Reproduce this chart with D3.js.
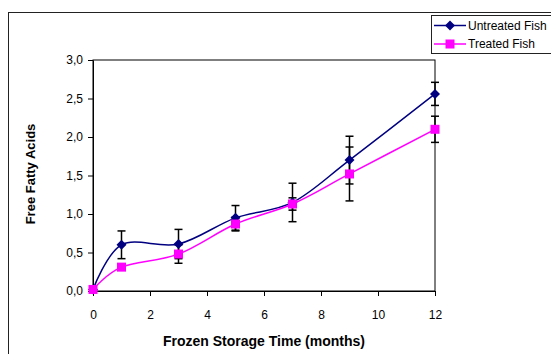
<!DOCTYPE html>
<html>
<head>
<meta charset="utf-8">
<script src="https://cdn.jsdelivr.net/npm/d3@7"></script>
<style>
  body { margin: 0; background: #fff; }
  svg { display: block; font-family: Arial, "Liberation Sans", sans-serif; }
</style>
</head>
<body>
<div id="chart"></div>
<script>
// storage time in months
const months = [0, 1, 3, 5, 7, 9, 12];
const untreated = [0.02, 0.60, 0.61, 0.95, 1.15, 1.70, 2.56];
const untreatedErr = [0, 0.18, 0.19, 0.16, 0.25, 0.31, 0.15];
const treated = [0.02, 0.31, 0.48, 0.87, 1.13, 1.52, 2.10];
const treatedErr = [0, 0.03, 0.12, 0.09, 0.08, 0.35, 0.17];
const xTicks = [0, 2, 4, 6, 8, 10, 12];
const yTicks = [0, 0.5, 1, 1.5, 2, 2.5, 3];

const series = [
  { name: 'Untreated Fish', values: untreated, err: untreatedErr, color: '#000080', marker: 'diamond' },
  { name: 'Treated Fish', values: treated, err: treatedErr, color: '#FF00FF', marker: 'square' }
];

const width = 551, height = 354;
const margin = { top: 60, right: 116, bottom: 63, left: 93 };
const w = width - margin.left - margin.right;
const h = height - margin.top - margin.bottom;

const svg = d3.select('#chart')
  .append('svg')
  .attr('width', width)
  .attr('height', height);

// outer chart border (runs off the right/bottom edge)
svg.append('rect')
  .attr('x', 8.5).attr('y', 12.5)
  .attr('width', 600).attr('height', 400)
  .attr('fill', 'none')
  .attr('stroke', '#222')
  .attr('stroke-width', 1);

const g = svg.append('g')
  .attr('transform', `translate(${margin.left},${margin.top})`);

const x = d3.scaleLinear().domain([0, 12]).range([0, w]);
const y = d3.scaleLinear().domain([0, 3]).range([h, 0]);

// plot frame
g.append('rect')
  .attr('x', 0).attr('y', 0)
  .attr('width', w).attr('height', h)
  .attr('fill', 'none')
  .attr('stroke', '#000')
  .attr('stroke-width', 1);

const xAxis = g.append('g')
  .attr('transform', `translate(0,${h})`)
  .call(d3.axisBottom(x).tickValues(xTicks).tickSize(5).tickPadding(14).tickSizeOuter(0));

xAxis.selectAll('text')
  .attr('font-size', 12)
  .attr('fill', '#000');

const fmt = d => d3.format('.1f')(d).replace('.', ',');
const yAxis = g.append('g')
  .call(d3.axisLeft(y).tickValues(yTicks).tickFormat(fmt).tickSize(5).tickPadding(5).tickSizeOuter(0));

yAxis.selectAll('text')
  .attr('font-size', 12)
  .attr('fill', '#000');

g.selectAll('.domain, .tick line')
  .attr('stroke', '#000');

// error bars
const capW = 4;
series.forEach(s => {
  const eb = g.append('g').attr('stroke', '#000').attr('stroke-width', 1.5);
  months.forEach((m, i) => {
    const e = s.err[i];
    if (!e) return;
    const cx = x(m);
    eb.append('line')
      .attr('x1', cx).attr('x2', cx)
      .attr('y1', y(s.values[i] - e)).attr('y2', y(s.values[i] + e));
    [s.values[i] - e, s.values[i] + e].forEach(v => {
      eb.append('line')
        .attr('x1', cx - capW).attr('x2', cx + capW)
        .attr('y1', y(v)).attr('y2', y(v));
    });
  });
});

const line = d3.line()
  .x(d => x(d[0]))
  .y(d => y(d[1]))
  .curve(d3.curveCardinal.tension(0));

const drawMarker = (sel, s, cx, cy) => {
  if (s.marker === 'diamond') {
    sel.append('path')
      .attr('d', `M${cx},${cy - 5}L${cx + 5},${cy}L${cx},${cy + 5}L${cx - 5},${cy}Z`)
      .attr('fill', s.color);
  } else {
    sel.append('rect')
      .attr('x', cx - 4.5).attr('y', cy - 4.5)
      .attr('width', 9).attr('height', 9)
      .attr('fill', s.color);
  }
};

series.forEach(s => {
  const pts = months.map((m, i) => [m, s.values[i]]);
  g.append('path')
    .datum(pts)
    .attr('d', line)
    .attr('fill', 'none')
    .attr('stroke', s.color)
    .attr('stroke-width', 1.5);
  const mk = g.append('g');
  pts.forEach(p => drawMarker(mk, s, x(p[0]), y(p[1])));
});

// axis titles
svg.append('text')
  .attr('x', margin.left + w / 2)
  .attr('y', 345.5)
  .attr('text-anchor', 'middle')
  .attr('font-size', 14)
  .attr('font-weight', 'bold')
  .text('Frozen Storage Time (months)');

svg.append('text')
  .attr('transform', 'translate(35,174) rotate(-90)')
  .attr('text-anchor', 'middle')
  .attr('font-size', 13)
  .attr('font-weight', 'bold')
  .text('Free Fatty Acids');

// legend
const legend = svg.append('g');
legend.append('rect')
  .attr('x', 431.5).attr('y', 15.5)
  .attr('width', 140).attr('height', 38)
  .attr('fill', '#fff')
  .attr('stroke', '#222');

series.forEach((s, i) => {
  const ly = 25.5 + i * 18.5;
  legend.append('line')
    .attr('x1', 434).attr('x2', 466)
    .attr('y1', ly).attr('y2', ly)
    .attr('stroke', s.color)
    .attr('stroke-width', 1.5);
  drawMarker(legend, s, 450, ly);
  legend.append('text')
    .attr('x', 468).attr('y', ly)
    .attr('dy', '0.35em')
    .attr('font-size', 12)
    .text(s.name);
});
</script>
</body>
</html>
